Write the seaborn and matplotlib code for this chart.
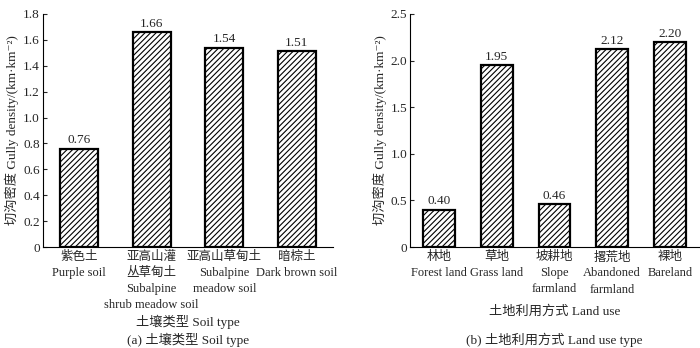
import pandas as pd
import matplotlib.pyplot as plt
import seaborn as sns
from matplotlib.ticker import FuncFormatter

sns.set_style('white')
plt.rcParams['font.family'] = ['Liberation Serif', 'Noto Sans CJK SC', 'DejaVu Serif']
plt.rcParams['hatch.linewidth'] = 0.8
plt.rcParams['axes.unicode_minus'] = False

# 数据
soil_labels = ['紫色土\nPurple soil',
               '亚高山灌\n丛草甸土\nSubalpine\nshrub meadow soil',
               '亚高山草甸土\nSubalpine\nmeadow soil',
               '暗棕土\nDark brown soil']
soil_values = [0.76, 1.66, 1.54, 1.51]

land_labels = ['林地\nForest land', '草地\nGrass land', '坡耕地\nSlope\nfarmland',
               '撂荒地\nAbandoned\nfarmland', '裸地\nBareland']
land_values = [0.40, 1.95, 0.46, 2.12, 2.20]

ylabel = '切沟密度 Gully density/(km·km⁻²)'
fs = 9

fig = plt.figure(figsize=(7, 3.48), dpi=100)
ax1 = fig.add_axes([0.061, 0.290, 0.415, 0.670])
ax2 = fig.add_axes([0.586, 0.290, 0.412, 0.670])


def draw(ax, labels, values, width, ymax, step, xlabel, caption, xlab_y):
    df = pd.DataFrame({'cat': labels, 'val': values})
    sns.barplot(data=df, x='cat', y='val', color='white', edgecolor='black',
                linewidth=1.6, width=width, saturation=1, ax=ax)
    for p in ax.patches:
        p.set_hatch('//////')
        p.set_facecolor('white')
    for i, v in enumerate(values):
        ax.text(i, v + ymax * 0.01, f'{v:.2f}', ha='center', va='bottom', fontsize=fs + 0.5)
    ax.set_xlim(-0.5, len(values) - 0.5)
    ax.set_ylim(0, ymax)
    ax.set_yticks([round(k * step, 2) for k in range(int(round(ymax / step)) + 1)])
    ax.yaxis.set_major_formatter(FuncFormatter(lambda y, _: '0' if y == 0 else f'{y:.1f}'))
    ax.tick_params(axis='y', direction='in', length=3, width=0.8, labelsize=fs + 0.5, pad=2, left=True)
    ax.tick_params(axis='x', length=0, labelsize=fs, pad=3)
    for lab in ax.get_xticklabels():
        lab.set_linespacing(1.45)
    sns.despine(ax=ax)
    for s in ['left', 'bottom']:
        ax.spines[s].set_linewidth(0.8)
        ax.spines[s].set_color('black')
    ax.set_xlabel('')
    ax.set_ylabel(ylabel, fontsize=fs + 0.5, labelpad=3)
    bb = ax.get_position()
    cx = (bb.x0 + bb.x1) / 2
    fig.text(cx, xlab_y, xlabel, ha='center', va='center', fontsize=fs + 0.5)
    fig.text(cx, 1 - 340 / 348, caption, ha='center', va='center', fontsize=fs + 0.5)


draw(ax1, soil_labels, soil_values, 0.52, 1.8, 0.2,
     '土壤类型 Soil type', '(a) 土壤类型 Soil type', 1 - 322 / 348)
draw(ax2, land_labels, land_values, 0.55, 2.5, 0.5,
     '土地利用方式 Land use', '(b) 土地利用方式 Land use type', 1 - 312 / 348)

plt.savefig('out.png', dpi=100)
